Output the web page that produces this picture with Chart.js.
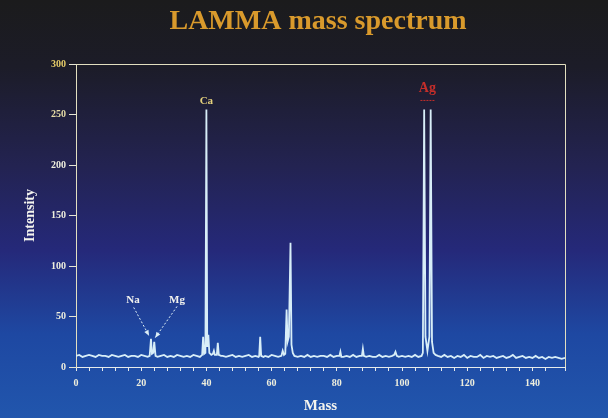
<!DOCTYPE html>
<html>
<head>
<meta charset="utf-8">
<script src="https://cdn.jsdelivr.net/npm/chart.js@4"></script>
<style>
  html, body { margin: 0; padding: 0; background: #1b1b1d; }
  canvas { display: block; }
</style>
</head>
<body>
<canvas id="spectrum" width="608" height="418"></canvas>
<script>
// LAMMA spectrum, values
const masses = [
  0, 1, 2, 3, 4, 5, 6, 7, 8, 9, 10, 11, 12, 13, 14, 15, 16, 17, 18, 19, 20, 21, 22,
  22.6, 23, 23.3, 23.7, 24, 24.4,
  25, 26, 27, 28, 29, 30, 31, 32, 33, 34, 35, 36, 37, 38,
  38.7, 39, 39.3, 39.7, 40, 40.25, 40.6, 40.9, 41.5, 42, 42.3, 42.6, 43.2, 43.5, 43.8, 44.5,
  45, 46, 47, 48, 49, 50, 51, 52, 53, 54, 55, 56,
  56.2, 56.5, 56.8, 57.5,
  58, 59, 60, 61, 62, 63,
  63.4, 63.8, 64.2, 64.6, 64.9, 65.3, 65.8, 66.1, 66.5, 67,
  68, 69, 70, 71, 72, 73, 74, 75, 76, 77, 78, 79, 80,
  80.8, 81.1, 81.4,
  82, 83, 84, 85, 86, 87,
  87.7, 88, 88.3,
  89, 90, 91, 92, 93, 94, 95, 96, 97,
  97.6, 98, 98.4,
  99, 100, 101, 102, 103, 104, 105,
  106, 106.4, 106.8, 107.2, 107.8, 108.4, 108.8, 109.2, 109.7, 110.3,
  111, 112, 113, 114, 115, 116, 117, 118, 119, 120,
  121, 122, 123, 124, 125, 126, 127, 128, 129, 130,
  131, 132, 133, 134, 135, 136, 137, 138, 139, 140,
  141, 142, 143, 144, 145, 146, 147, 148, 149, 150
];
const intensity = [
  11, 12, 10, 11, 12, 11, 10, 12, 11, 11, 10, 12, 11, 10, 11, 12, 10, 11, 11, 10, 12, 11, 10,
  11, 28, 13, 14, 25, 11,
  10, 11, 12, 10, 11, 10, 12, 11, 10, 11, 10, 12, 11, 10,
  12, 30, 13, 14, 255, 20, 32, 14, 12, 13, 16, 12, 12, 24, 12, 11,
  11, 10, 11, 12, 10, 11, 10, 11, 12, 10, 11, 10,
  11, 30, 11, 10,
  11, 10, 12, 11, 10, 11,
  16, 12, 13, 57, 25, 30, 123, 22, 14, 11,
  10, 11, 10, 12, 10, 11, 10, 11, 11, 10, 12, 10, 11,
  11, 15, 10,
  10, 11, 10, 12, 10, 11,
  11, 18, 11,
  10, 11, 10, 10, 12, 10, 11, 10, 11,
  12, 15, 11,
  10, 11, 10, 11, 10, 12, 10,
  11, 14, 255, 30, 16, 30, 255, 25, 14, 12,
  11, 10, 12, 10, 11, 9, 11, 10, 12, 9,
  11, 10, 10, 12, 9, 11, 10, 11, 9, 10,
  11, 9, 10, 12, 9, 10, 11, 9, 10, 9,
  11, 9, 10, 8, 10, 9, 10, 9, 8, 9
];
const yTicks = [0, 50, 100, 150, 200, 250, 300];
const xLabelStep = 20;
const xMinorStep = 4;
const chartTitle = 'LAMMA mass spectrum';

// peak labels (mass / intensity anchor, pixel nudges)
const peakLabels = [
  { text: 'Ca', mass: 40, value: 255, dx: 0, dy: -8, color: '#e6d27c', size: 11 },
  { text: 'Ag', mass: 107.8, value: 255, dx: 0, dy: -21, color: '#c42e2a', size: 14 },
  { text: 'Na', mass: 17.5, value: 66, dx: 0, dy: 0, color: '#f2f2ee', size: 11 },
  { text: 'Mg', mass: 31, value: 66, dx: 0, dy: 0, color: '#f2f2ee', size: 11 }
];
const arrows = [
  { from: [17.7, 59], to: [22.4, 31] },
  { from: [31, 60], to: [24.3, 29] }
];

const points = masses.map((m, i) => ({ x: m, y: intensity[i] }));
const serif = '"Liberation Serif", "DejaVu Serif", serif';

const backdrop = {
  id: 'backdrop',
  beforeDraw(chart) {
    const c = chart.ctx;
    const g = c.createLinearGradient(0, 0, 0, chart.height);
    g.addColorStop(0, '#1b1b1c');
    g.addColorStop(0.16, '#1c1c28');
    g.addColorStop(0.4, '#232352');
    g.addColorStop(0.6, '#25297a');
    g.addColorStop(0.8, '#1e48a2');
    g.addColorStop(1, '#2156ad');
    c.save();
    c.fillStyle = g;
    c.fillRect(0, 0, chart.width, chart.height);
    // heading
    c.font = 'bold 28px ' + serif;
    c.fillStyle = '#d99a2c';
    c.textAlign = 'center';
    c.textBaseline = 'middle';
    c.fillText(chartTitle, 318, 22);
    c.restore();
  },
  afterDraw(chart) {
    const c = chart.ctx;
    const a = chart.chartArea;
    const xs = chart.scales.x, ys = chart.scales.y;
    c.save();
    // top and right frame lines
    c.strokeStyle = '#e2dfc0';
    c.lineWidth = 1;
    c.beginPath();
    c.moveTo(a.left, a.top + 0.5);
    c.lineTo(a.right + 0.5, a.top + 0.5);
    c.lineTo(a.right + 0.5, a.bottom);
    c.stroke();

    c.textAlign = 'center';
    c.textBaseline = 'middle';
    peakLabels.forEach(p => {
      c.font = 'bold ' + p.size + 'px ' + serif;
      c.fillStyle = p.color;
      const px = xs.getPixelForValue(p.mass) + p.dx;
      const py = ys.getPixelForValue(p.value) + p.dy;
      c.fillText(p.text, px, py);
      if (p.text === 'Ag') {
        c.strokeStyle = p.color;
        c.setLineDash([2, 1]);
        c.beginPath();
        c.moveTo(px - 7, py + 12);
        c.lineTo(px + 7, py + 12);
        c.stroke();
        c.setLineDash([]);
      }
    });

    c.strokeStyle = '#dceef6';
    c.fillStyle = '#dceef6';
    c.lineWidth = 1;
    arrows.forEach(ar => {
      const x1 = xs.getPixelForValue(ar.from[0]), y1 = ys.getPixelForValue(ar.from[1]);
      const x2 = xs.getPixelForValue(ar.to[0]), y2 = ys.getPixelForValue(ar.to[1]);
      c.setLineDash([2, 2]);
      c.beginPath();
      c.moveTo(x1, y1);
      c.lineTo(x2, y2);
      c.stroke();
      c.setLineDash([]);
      const ang = Math.atan2(y2 - y1, x2 - x1);
      c.beginPath();
      c.moveTo(x2, y2);
      c.lineTo(x2 - 6 * Math.cos(ang - 0.4), y2 - 6 * Math.sin(ang - 0.4));
      c.lineTo(x2 - 6 * Math.cos(ang + 0.4), y2 - 6 * Math.sin(ang + 0.4));
      c.closePath();
      c.fill();
    });
    c.restore();
  }
};

const cfg = {
  type: 'line',
  data: {
    datasets: [{
      label: 'Intensity',
      data: points,
      borderColor: '#d8eef8',
      borderWidth: 1.8,
      pointRadius: 0,
      tension: 0,
      fill: false
    }]
  },
  options: {
    responsive: false,
    animation: false,
    layout: { padding: { left: 0, right: 43, top: 64, bottom: 0 } },
    scales: {
      x: {
        type: 'linear',
        min: 0,
        max: 150,
        afterFit: s => { s.height = 51; },
        border: { display: true, color: '#e6ecec', width: 1 },
        grid: { drawOnChartArea: false, tickLength: 4, color: '#e6ecec' },
        ticks: {
          stepSize: xMinorStep,
          autoSkip: false,
          maxRotation: 0,
          padding: 6,
          color: '#eeeedd',
          font: { family: serif, size: 10, weight: 'bold' },
          callback: v => (v % xLabelStep === 0 ? v : '')
        },
        title: {
          display: true,
          text: 'Mass',
          color: '#f4f4ee',
          font: { family: serif, size: 15, weight: 'bold' },
          padding: { top: 0, bottom: 3 }
        }
      },
      y: {
        min: 0,
        max: 300,
        afterFit: s => { s.width = 76; },
        afterBuildTicks: s => { s.ticks = yTicks.map(v => ({ value: v })); },
        border: { display: true, color: '#e2dfc0', width: 1 },
        grid: { drawOnChartArea: false, tickLength: 7, color: '#e6e6d6' },
        ticks: {
          padding: 3,
          color: c => (c.tick && c.tick.value === 300 ? '#e6cc68' : (c.tick && c.tick.value === 250 ? '#e6dca6' : '#eeeedd')),
          font: { family: serif, size: 10, weight: 'bold' }
        },
        title: {
          display: true,
          text: 'Intensity',
          color: '#f4f4ee',
          font: { family: serif, size: 14, weight: 'bold' },
          padding: { top: 22, bottom: 0 }
        }
      }
    },
    plugins: {
      legend: { display: false },
      tooltip: { enabled: false },
      title: { display: false }
    }
  },
  plugins: [backdrop]
};

const ctx = document.getElementById('spectrum').getContext('2d');
const spectrumChart = new Chart(ctx, cfg);
</script>
</body>
</html>
